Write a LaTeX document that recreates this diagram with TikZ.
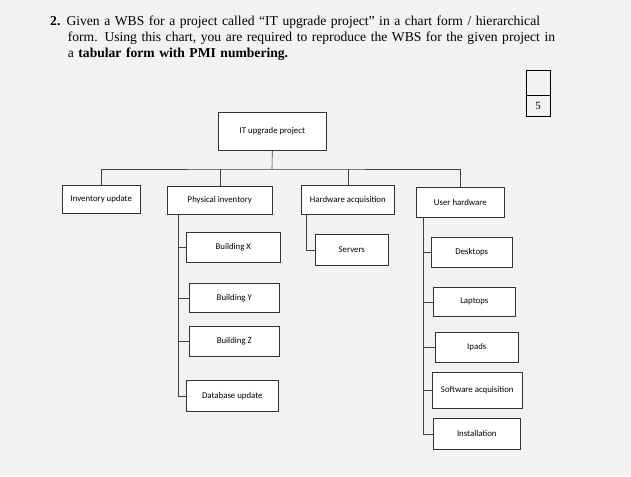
\documentclass[tikz,border=0pt]{standalone}
\usepackage{fontspec}
\setmainfont{Liberation Serif}
\newfontfamily\boxfont{Carlito}
\begin{document}
\begin{tikzpicture}[x=1pt,y=-1pt,
  wbs/.style={draw=black!80,line width=0.6pt,fill=white,anchor=north west,font=\boxfont\fontsize{8.8}{10}\selectfont,inner sep=1pt},
  con/.style={draw=black!75,line width=0.6pt}]
\fill[black!5] (0,0) rectangle (631,476);
\useasboundingbox (0,0) rectangle (631,476);
\node[anchor=north west,text width=540pt,font=\fontsize{13.6}{16}\selectfont,inner sep=0] (q) at (50,16)
 {\textbf{2.}\hspace{0.45em}Given a WBS for a project called ``IT upgrade project'' in a chart form / hierarchical\\
 \hspace*{1.3em}form. Using this chart, you are required to reproduce the WBS for the given project in\\
 \hspace*{1.3em}a \textbf{tabular form with PMI numbering.}};
\node[draw,anchor=north west,minimum width=24pt,minimum height=25pt,inner sep=0] (m1) at (526,70) {};
\node[draw,anchor=north,minimum width=24pt,minimum height=21pt,inner sep=0,font=\fontsize{11}{13}\selectfont] (m2) at (m1.south) {5};
\node[wbs,minimum width=108pt,minimum height=38pt] (root) at (218,112) {IT upgrade project};
\node[wbs,minimum width=78pt,minimum height=28pt] (inv) at (62,185) {Inventory update};
\node[wbs,minimum width=105pt,minimum height=28pt] (phy) at (167,186) {Physical inventory};
\node[wbs,minimum width=93pt,minimum height=29pt] (hw) at (301,185) {Hardware acquisition};
\node[wbs,minimum width=88pt,minimum height=30pt] (uh) at (416,187) {User hardware};
\node[wbs,minimum width=94pt,minimum height=30pt] (bx) at (186,232) {Building X};
\node[wbs,minimum width=90pt,minimum height=29pt] (by) at (189,283) {Building Y};
\node[wbs,minimum width=90pt,minimum height=30pt] (bz) at (189,326) {Building Z};
\node[wbs,minimum width=92pt,minimum height=31pt] (db) at (186,380) {Database update};
\node[wbs,minimum width=73pt,minimum height=31pt] (sv) at (315,234) {Servers};
\node[wbs,minimum width=81pt,minimum height=30pt] (dt) at (431,237) {Desktops};
\node[wbs,minimum width=82pt,minimum height=29pt] (lp) at (433,287) {Laptops};
\node[wbs,minimum width=83pt,minimum height=30pt] (ip) at (435,332) {Ipads};
\node[wbs,minimum width=90pt,minimum height=36pt] (sa) at (432,372) {Software acquisition};
\node[wbs,minimum width=87pt,minimum height=31pt] (in) at (433,418) {Installation};
\coordinate (bar) at (272,169);
\draw[con] (root.south) -- (bar);
\draw[con] (inv.north) |- (bar) -| (uh.north);
\draw[con] (phy.north) -- (phy.north |- bar);
\draw[con] (hw.north) -- (hw.north |- bar);
\draw[con] ([xshift=11pt]phy.south west) |- (bx.west);
\draw[con] ([xshift=11pt]phy.south west) |- (by.west);
\draw[con] ([xshift=11pt]phy.south west) |- (bz.west);
\draw[con] ([xshift=11pt]phy.south west) |- (db.west);
\draw[con] ([xshift=5pt]hw.south west) |- (sv.west);
\draw[con] ([xshift=7pt]uh.south west) |- (dt.west);
\draw[con] ([xshift=7pt]uh.south west) |- (lp.west);
\draw[con] ([xshift=7pt]uh.south west) |- (ip.west);
\draw[con] ([xshift=7pt]uh.south west) |- (sa.west);
\draw[con] ([xshift=7pt]uh.south west) |- (in.west);
\end{tikzpicture}
\end{document}
